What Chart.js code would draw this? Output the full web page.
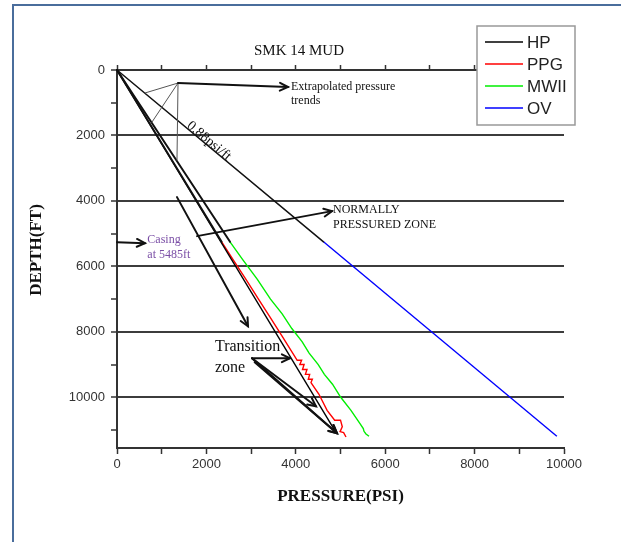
<!DOCTYPE html>
<html>
<head>
<meta charset="utf-8">
<script src="https://cdn.jsdelivr.net/npm/chart.js@4.4.1/dist/chart.umd.min.js"></script>
<style>
    html, body { margin: 0; padding: 0; background: #fff; }
    #wrap { position: relative; width: 621px; height: 542px; }
    #frame { position: absolute; left: 12px; top: 4px; right: 0; bottom: 0;
             border-left: 2px solid #4a6d9c; border-top: 2px solid #4a6d9c; pointer-events: none; }
</style>
</head>
<body>
<div id="wrap">
    <canvas id="chart" width="621" height="542"></canvas>
    <div id="frame"></div>
</div>
<script>
// values: pressure (psi) against depth (ft)
const hpPressure = [0, 4915];
const hpDepth = [0, 11110];

const ppgPressure = [2342, 2600, 2885, 3165, 3445, 3700, 4031, 4130, 4090, 4185, 4150, 4250, 4215, 4310, 4280, 4370, 4340, 4515, 4700, 4870, 5000, 5040, 4990, 5070, 5123];
const ppgDepth = [5250, 5800, 6400, 7000, 7600, 8150, 8870, 8870, 9000, 9000, 9150, 9150, 9300, 9300, 9450, 9450, 9550, 9900, 10400, 10700, 10700, 10900, 11050, 11080, 11214];

const mwPressure = [2528, 2816, 3140, 3434, 3695, 3911, 4140, 4298, 4502, 4639, 4821, 5005, 5234, 5436, 5510, 5526, 5570, 5638];
const mwDepth = [5250, 5800, 6400, 7000, 7450, 7900, 8300, 8650, 9000, 9300, 9600, 10000, 10400, 10805, 10957, 11040, 11120, 11193];

const ovPressure = [4620, 9840];
const ovDepth = [5250, 11190];

const seriesNames = ["HP", "PPG", "MWII", "OV"];
const seriesColors = ["#000000", "#ff0000", "#00ee00", "#0000ff"];

// axis ticks: a mark every 1000, a label every 2000
const pressureTicks = [0, 1000, 2000, 3000, 4000, 5000, 6000, 7000, 8000, 9000, 10000];
const depthTicks = [0, 1000, 2000, 3000, 4000, 5000, 6000, 7000, 8000, 9000, 10000, 11000];
const labelStep = 2000;
const pressureMax = 10000;
const depthMax = 11550;

// hand drawn extras on the original, in data coordinates [pressure, depth]
const trendLines = [
    { from: [0, 0], to: [4620, 5250], width: 1.5 },
    { from: [0, 0], to: [2528, 5250], width: 2 },
    { from: [0, 0], to: [2340, 5250], width: 2 },
    { from: [1365, 398], to: [626, 703], width: 1 },
    { from: [1365, 398], to: [783, 1590], width: 1 },
    { from: [1365, 398], to: [1342, 2752], width: 1 }
];
const arrows = [
    { from: [1365, 398], to: [3826, 520] },
    { from: [1790, 5076], to: [4810, 4312] },
    { from: [0, 5260], to: [626, 5290] },
    { from: [1342, 3884], to: [2931, 7829] },
    { from: [3020, 8807], to: [3870, 8807] },
    { from: [3020, 8807], to: [4452, 10275] },
    { from: [3020, 8807], to: [4922, 11100] },
    { from: [3080, 8930], to: [4922, 11100] }
];
const notes = [
    { text: "Extrapolated pressure", at: [3893, 511], size: 12, color: "#111" },
    { text: "trends", at: [3893, 939], size: 12, color: "#111" },
    { text: "NORMALLY", at: [4832, 4281], size: 12, color: "#111" },
    { text: "PRESSURED ZONE", at: [4832, 4719], size: 12, color: "#111" },
    { text: "Casing", at: [678, 5199], size: 12, color: "#7b4fa6" },
    { text: "at 5485ft", at: [678, 5657], size: 12, color: "#7b4fa6" },
    { text: "Transition", at: [2192, 8462], size: 16, color: "#111" },
    { text: "zone", at: [2192, 9113], size: 16, color: "#111" }
];
const slopeNote = { text: "0.88psi/ft", at: [2058, 2171], size: 14, angle: 40 };

function points(xs, ys) {
    return xs.map((x, i) => ({ x: x, y: ys[i] }));
}

function arrowHead(ctx, x1, y1, x2, y2) {
    let a = Math.atan2(y2 - y1, x2 - x1);
    let len = 9;
    ctx.beginPath();
    ctx.moveTo(x2 - len * Math.cos(a - 0.45), y2 - len * Math.sin(a - 0.45));
    ctx.lineTo(x2, y2);
    ctx.lineTo(x2 - len * Math.cos(a + 0.45), y2 - len * Math.sin(a + 0.45));
    ctx.stroke();
}

const extrasPlugin = {
    id: "extras",
    afterDatasetsDraw(chart) {
        let ctx = chart.ctx;
        let xs = chart.scales.x, ys = chart.scales.y;
        let px = p => xs.getPixelForValue(p);
        let py = d => ys.getPixelForValue(d);
        ctx.save();
        ctx.lineCap = "round";
        trendLines.forEach(l => {
            ctx.lineWidth = l.width;
            ctx.strokeStyle = l.width < 1.5 ? "#555" : "#111";
            ctx.beginPath();
            ctx.moveTo(px(l.from[0]), py(l.from[1]));
            ctx.lineTo(px(l.to[0]), py(l.to[1]));
            ctx.stroke();
        });
        ctx.strokeStyle = "#111";
        ctx.lineWidth = 2;
        arrows.forEach(a => {
            let x1 = px(a.from[0]), y1 = py(a.from[1]), x2 = px(a.to[0]), y2 = py(a.to[1]);
            ctx.beginPath();
            ctx.moveTo(x1, y1);
            ctx.lineTo(x2, y2);
            ctx.stroke();
            arrowHead(ctx, x1, y1, x2, y2);
        });
        ctx.textBaseline = "middle";
        ctx.textAlign = "left";
        notes.forEach(n => {
            ctx.font = n.size + 'px "Liberation Serif", "Times New Roman", serif';
            ctx.fillStyle = n.color;
            ctx.fillText(n.text, px(n.at[0]), py(n.at[1]));
        });
        ctx.translate(px(slopeNote.at[0]), py(slopeNote.at[1]));
        ctx.rotate(slopeNote.angle * Math.PI / 180);
        ctx.textAlign = "center";
        ctx.font = slopeNote.size + 'px "Liberation Serif", "Times New Roman", serif';
        ctx.fillStyle = "#111";
        ctx.fillText(slopeNote.text, 0, 0);
        ctx.restore();
    },
    afterDraw(chart) {
        let ctx = chart.ctx;
        let area = chart.chartArea;
        ctx.save();
        // title and axis titles
        ctx.fillStyle = "#111";
        ctx.textAlign = "center";
        ctx.textBaseline = "middle";
        ctx.font = '15px "Liberation Serif", "Times New Roman", serif';
        ctx.fillText("SMK 14 MUD", chart.scales.x.getPixelForValue(4072), area.top - 19);
        ctx.font = 'bold 17px "Liberation Serif", "Times New Roman", serif';
        ctx.fillText("PRESSURE(PSI)", (area.left + area.right) / 2, area.bottom + 49);
        ctx.save();
        ctx.translate(37, 250);
        ctx.rotate(-Math.PI / 2);
        ctx.fillText("DEPTH(FT)", 0, 0);
        ctx.restore();

        // legend box
        let bx = area.right - 87, by = area.top - 44, bw = 98, bh = 99;
        ctx.fillStyle = "#fff";
        ctx.fillRect(bx, by, bw, bh);
        ctx.strokeStyle = "#999";
        ctx.lineWidth = 1.5;
        ctx.strokeRect(bx, by, bw, bh);
        ctx.font = '17px "Liberation Sans", Arial, sans-serif';
        ctx.textAlign = "left";
        seriesNames.forEach((name, i) => {
            let y = by + 16 + i * 22;
            ctx.strokeStyle = seriesColors[i];
            ctx.lineWidth = 1.5;
            ctx.beginPath();
            ctx.moveTo(bx + 8, y);
            ctx.lineTo(bx + 46, y);
            ctx.stroke();
            ctx.fillStyle = "#222";
            ctx.fillText(name, bx + 50, y + 1);
        });
        ctx.restore();
    }
};

function setTicks(values) {
    return scale => { scale.ticks = values.map(v => ({ value: v })); };
}
function majorLabel(v) {
    return v % labelStep === 0 ? String(v) : "";
}

let ctx = document.getElementById("chart").getContext("2d");
let tickFont = { family: '"Liberation Sans", Arial, sans-serif', size: 13 };

new Chart(ctx, {
    type: "scatter",
    data: {
        datasets: [
            { label: seriesNames[0], data: points(hpPressure, hpDepth), borderColor: seriesColors[0] },
            { label: seriesNames[1], data: points(ppgPressure, ppgDepth), borderColor: seriesColors[1] },
            { label: seriesNames[2], data: points(mwPressure, mwDepth), borderColor: seriesColors[2] },
            { label: seriesNames[3], data: points(ovPressure, ovDepth), borderColor: seriesColors[3] }
        ].map(ds => Object.assign(ds, {
            showLine: true, pointRadius: 0, borderWidth: 1.4, tension: 0, fill: false
        }))
    },
    options: {
        responsive: false,
        animation: false,
        events: [],
        layout: { padding: { left: 0, right: 57, top: 0, bottom: 0 } },
        plugins: { legend: { display: false }, tooltip: { enabled: false } },
        scales: {
            x: {
                type: "linear", position: "bottom", min: 0, max: pressureMax,
                afterBuildTicks: setTicks(pressureTicks),
                afterFit: s => { s.height = 94; },
                border: { display: true, color: "#333", width: 2 },
                grid: { drawOnChartArea: false, tickLength: 6, tickColor: "#333", tickWidth: 1.5 },
                ticks: {
                    autoSkip: false, maxRotation: 0, padding: 3,
                    color: "#333", font: tickFont, callback: majorLabel
                }
            },
            x2: {
                type: "linear", position: "top", min: 0, max: pressureMax,
                afterBuildTicks: setTicks(pressureTicks),
                afterFit: s => { s.height = 70; },
                border: { display: true, color: "#333", width: 2 },
                grid: { drawOnChartArea: false, tickLength: 5, tickColor: "#333", tickWidth: 1.5 },
                ticks: { display: false }
            },
            y: {
                type: "linear", position: "left", reverse: true, min: 0, max: depthMax,
                afterBuildTicks: setTicks(depthTicks),
                afterFit: s => { s.width = 117; },
                border: { display: true, color: "#333", width: 2 },
                grid: {
                    color: "#3c3c3c",
                    lineWidth: c => (c.tick && c.tick.value % labelStep === 0) ? 2 : 0,
                    tickLength: 6, tickColor: "#333", tickWidth: 1.5
                },
                ticks: {
                    autoSkip: false, padding: 6,
                    color: "#333", font: tickFont, callback: majorLabel
                }
            }
        }
    },
    plugins: [extrasPlugin]
});
</script>
</body>
</html>
